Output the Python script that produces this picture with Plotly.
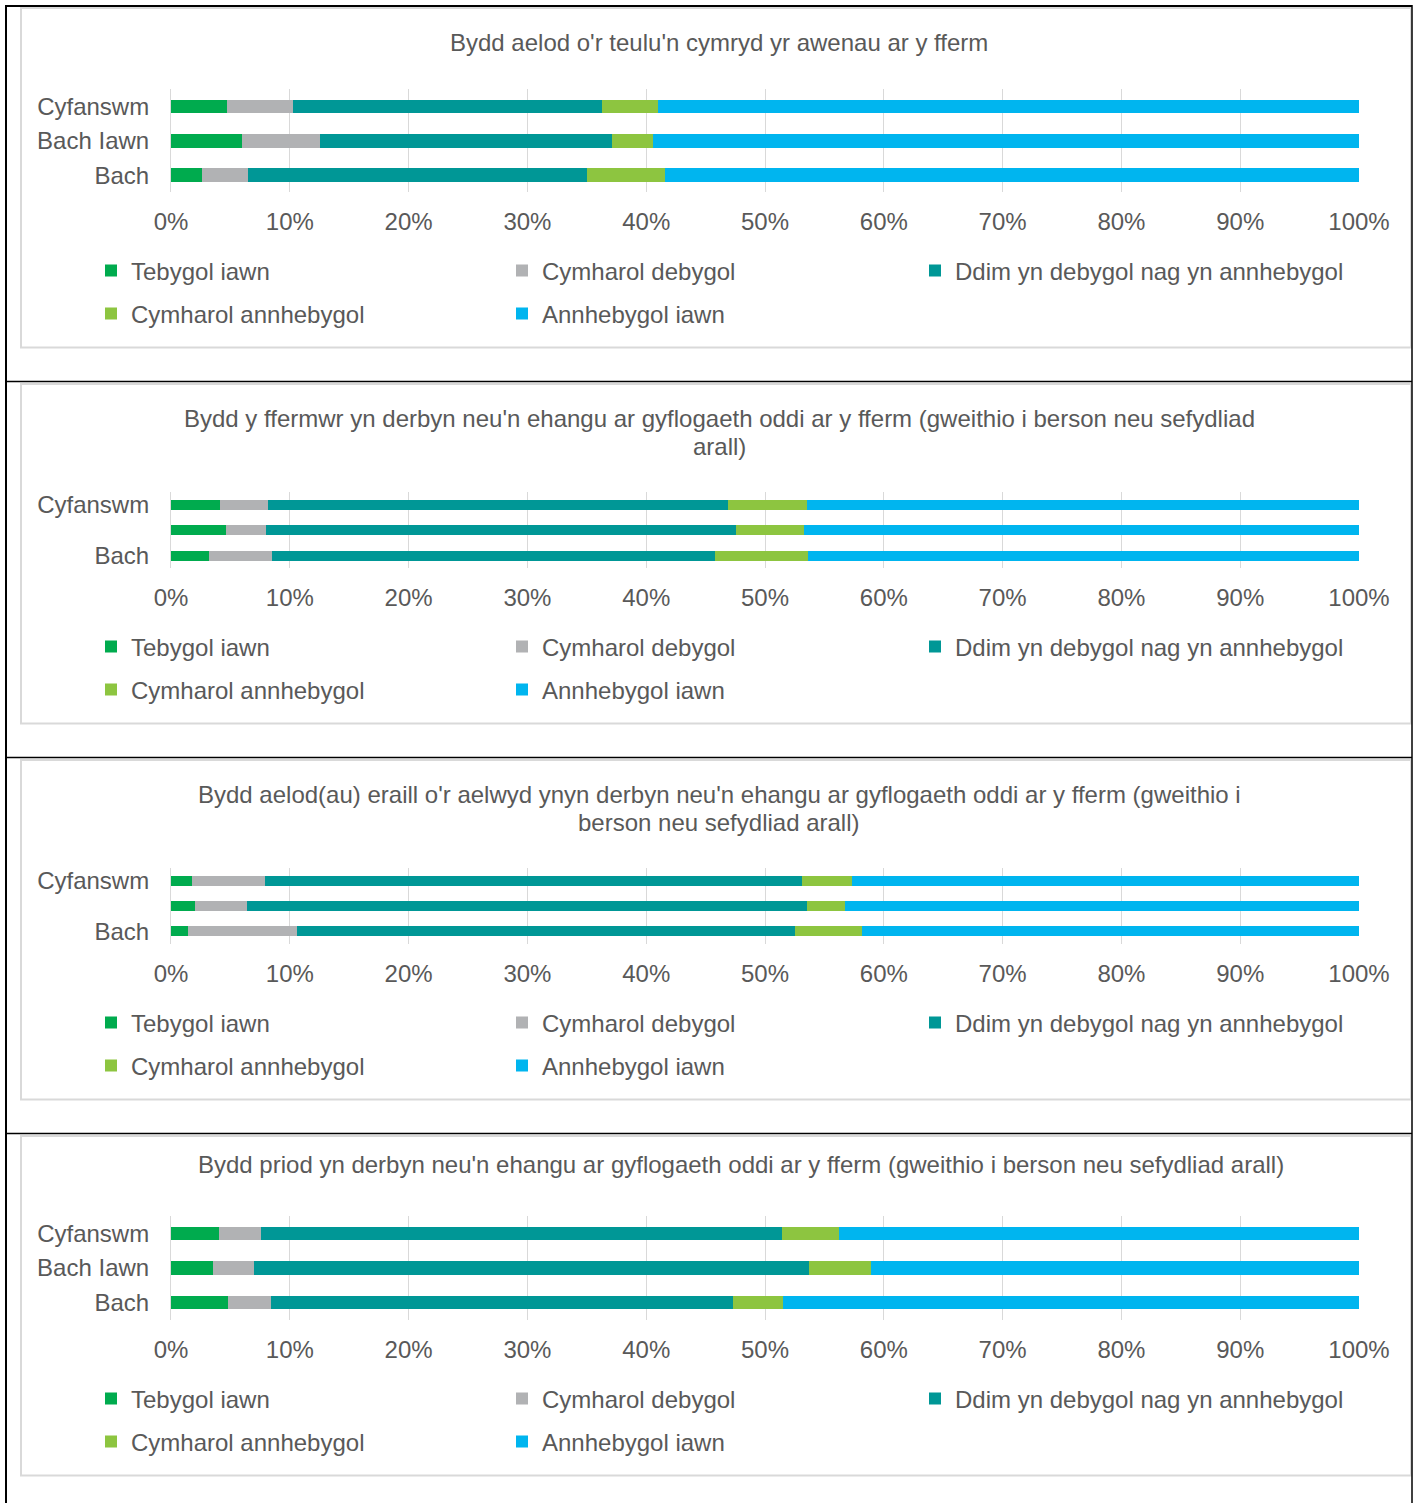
import plotly.graph_objects as go

W, H = 1417, 1503

# ---------------- data ----------------
categories = ["Bach", "Bach Iawn", "Cyfanswm"]  # bottom -> top
series_names = ["Tebygol iawn", "Cymharol debygol", "Ddim yn debygol nag yn annhebygol",
                "Cymharol annhebygol", "Annhebygol iawn"]
series_colors = ["#00AB4E", "#B1B2B4", "#009796", "#8DC540", "#00B5EF"]
tick_values = [0, 10, 20, 30, 40, 50, 60, 70, 80, 90, 100]
tick_labels = ["0%", "10%", "20%", "30%", "40%", "50%", "60%", "70%", "80%", "90%", "100%"]

titles = [
    ["Bydd aelod o'r teulu'n cymryd yr awenau ar y fferm"],
    ["Bydd y ffermwr yn derbyn neu'n ehangu ar gyflogaeth oddi ar y fferm (gweithio i berson neu sefydliad",
     "arall)"],
    ["Bydd aelod(au) eraill o'r aelwyd ynyn derbyn neu'n ehangu ar gyflogaeth oddi ar y fferm (gweithio i",
     "berson neu sefydliad arall)"],
    ["Bydd priod yn derbyn neu'n ehangu ar gyflogaeth oddi ar y fferm (gweithio i berson neu sefydliad arall)"],
]
shown_labels = [
    ["Bach", "Bach Iawn", "Cyfanswm"],
    ["Bach", "Cyfanswm"],
    ["Bach", "Cyfanswm"],
    ["Bach", "Bach Iawn", "Cyfanswm"],
]

# values per category order [Bach, Bach Iawn, Cyfanswm]
p1_tebygol_iawn = [2.6, 6.0, 4.7]
p1_cymharol_debygol = [3.9, 6.5, 5.6]
p1_ddim = [28.5, 24.6, 26.0]
p1_cymharol_annhebygol = [6.6, 3.5, 4.7]
p1_annhebygol_iawn = [58.4, 59.4, 59.0]

p2_tebygol_iawn = [3.2, 4.6, 4.1]
p2_cymharol_debygol = [5.3, 3.4, 4.1]
p2_ddim = [37.3, 39.6, 38.7]
p2_cymharol_annhebygol = [7.8, 5.7, 6.6]
p2_annhebygol_iawn = [46.4, 46.7, 46.5]

p3_tebygol_iawn = [1.4, 2.0, 1.8]
p3_cymharol_debygol = [9.2, 4.4, 6.1]
p3_ddim = [41.9, 47.1, 45.2]
p3_cymharol_annhebygol = [5.7, 3.2, 4.2]
p3_annhebygol_iawn = [41.8, 43.3, 42.7]

p4_tebygol_iawn = [4.8, 3.5, 4.0]
p4_cymharol_debygol = [3.6, 3.5, 3.6]
p4_ddim = [38.9, 46.7, 43.8]
p4_cymharol_annhebygol = [4.2, 5.2, 4.8]
p4_annhebygol_iawn = [48.5, 41.1, 43.8]

panels = [
    [p1_tebygol_iawn, p1_cymharol_debygol, p1_ddim, p1_cymharol_annhebygol, p1_annhebygol_iawn],
    [p2_tebygol_iawn, p2_cymharol_debygol, p2_ddim, p2_cymharol_annhebygol, p2_annhebygol_iawn],
    [p3_tebygol_iawn, p3_cymharol_debygol, p3_ddim, p3_cymharol_annhebygol, p3_annhebygol_iawn],
    [p4_tebygol_iawn, p4_cymharol_debygol, p4_ddim, p4_cymharol_annhebygol, p4_annhebygol_iawn],
]

# ---------------- layout geometry (page pixels) ----------------
TXT = "#595959"
GRID = "#D9D9D9"
FONT = "Liberation Sans, Arial, sans-serif"
FS = 24
panel_offsets = [0, 376, 752, 1128]
plot_y = [(89.3, 192.3), (492.4, 568.3), (868.1, 944.0), (1216.3, 1319.8)]
title_y = [[43], [418, 446], [794, 822], [1164]]
title_x = [719, 719, 719, 741]
x_left, x_right = 171, 1359
# legend entry positions (item origin x, row y) for the five series
legend_pos = [(91, 271), (502, 271), (915, 271), (91, 314), (502, 314)]


def px(x):
    return x / W


def py(y):
    return 1 - y / H


fig = go.Figure()
layout = dict(
    width=W, height=H,
    margin=dict(l=0, r=0, t=0, b=0),
    paper_bgcolor="white", plot_bgcolor="white",
    barmode="stack", bargap=0.6,
    font=dict(family=FONT, color=TXT, size=FS),
    showlegend=True,
)
annotations = []
shapes = []

for k in range(4):
    n = k + 1
    xa = "x" if n == 1 else f"x{n}"
    ya = "y" if n == 1 else f"y{n}"
    off = panel_offsets[k]
    for j, vals in enumerate(panels[k]):
        idx = k * 5 + j + 1
        lname = "legend" if idx == 1 else f"legend{idx}"
        fig.add_trace(go.Bar(
            x=vals, y=categories, orientation="h", name=series_names[j],
            marker=dict(color=series_colors[j], line=dict(width=0)),
            xaxis=xa, yaxis=ya, legend=lname,
            hovertemplate="%{y}: %{x}%<extra>" + series_names[j] + "</extra>",
        ))
        lx, ly = legend_pos[j]
        layout[lname] = dict(
            orientation="h", x=px(lx), xanchor="left", xref="paper",
            y=py(ly + off), yanchor="middle", yref="paper",
            font=dict(size=FS, color=TXT, family=FONT),
            bgcolor="rgba(0,0,0,0)", borderwidth=0,
        )
    y0, y1 = plot_y[k]
    layout["xaxis" if n == 1 else f"xaxis{n}"] = dict(
        domain=[px(x_left), px(x_right)], anchor=ya, range=[0, 100],
        tickmode="array", tickvals=tick_values, ticktext=tick_labels,
        showgrid=True, gridcolor=GRID, gridwidth=1,
        zeroline=False, showline=False, ticks="", tickfont=dict(size=FS, color=TXT),
        ticklabelstandoff=13, automargin=False, fixedrange=True,
    )
    layout["yaxis" if n == 1 else f"yaxis{n}"] = dict(
        domain=[py(y1), py(y0)], anchor=xa, type="category",
        categoryorder="array", categoryarray=categories, range=[-0.5, 2.5],
        tickmode="array", tickvals=shown_labels[k], ticktext=shown_labels[k],
        showgrid=False, zeroline=False,
        showline=True, linecolor=GRID, linewidth=1, ticks="",
        tickfont=dict(size=FS, color=TXT), ticklabelstandoff=16,
        automargin=False, fixedrange=True,
    )
    for line_txt, ty in zip(titles[k], title_y[k]):
        annotations.append(dict(
            text=line_txt, xref="paper", yref="paper", x=px(title_x[k]), y=py(ty),
            xanchor="center", yanchor="middle", showarrow=False,
            font=dict(size=FS, color=TXT, family=FONT),
        ))
    # light grey chart frame
    shapes.append(dict(type="rect", xref="paper", yref="paper",
                       x0=px(21), x1=px(1411), y0=py(8 + off), y1=py(347.5 + off),
                       line=dict(color=GRID, width=2), fillcolor="rgba(0,0,0,0)", layer="below"))
    # black separator line at top of each panel
    ysep = 6 + off - (0 if k == 0 else 0.5)
    shapes.append(dict(type="line", xref="paper", yref="paper",
                       x0=px(6), x1=px(1412), y0=py(ysep), y1=py(ysep),
                       line=dict(color="black", width=2 if k == 0 else 1.5)))

# outer black verticals
shapes.append(dict(type="line", xref="paper", yref="paper", x0=px(6), x1=px(6),
                   y0=py(5), y1=py(1503), line=dict(color="black", width=2)))
shapes.append(dict(type="line", xref="paper", yref="paper", x0=px(1412), x1=px(1412),
                   y0=py(5), y1=py(1503), line=dict(color="black", width=1.5)))

layout["annotations"] = annotations
layout["shapes"] = shapes
fig.update_layout(**layout)

fig.write_html("out.html", config={"displayModeBar": False},
               post_script="document.body.style.margin='0px';")
